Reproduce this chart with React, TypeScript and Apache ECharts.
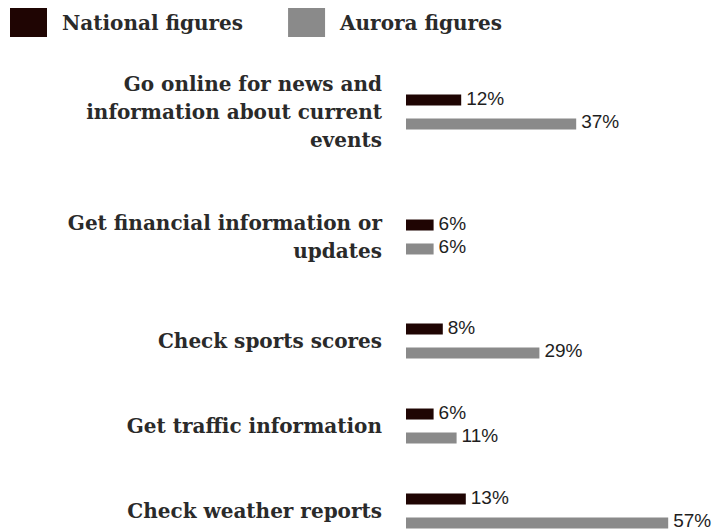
import React, { useEffect, useRef } from "react";
import * as echarts from "echarts";

const categories = [
  "Go online for news and\ninformation about current\nevents",
  "Get financial information or\nupdates",
  "Check sports scores",
  "Get traffic information",
  "Check weather reports",
];
const nationalValues = [12, 6, 8, 6, 13];
const auroraValues = [37, 6, 29, 11, 57];
const seriesNames = ["National figures", "Aurora figures"];

const groupCenters = [112, 237, 341, 426, 511];
const NATIONAL_COLOR = "#1f0503";
const AURORA_COLOR = "#8a8a8a";
const SERIF = "DejaVu Serif";

export default function App() {
  const ref = useRef<HTMLDivElement>(null);
  useEffect(() => {
    document.body.style.margin = "0";
    const chart = echarts.init(ref.current!, null, { renderer: "svg" });
    const grids: any[] = [];
    const xAxes: any[] = [];
    const yAxes: any[] = [];
    const series: any[] = [];
    categories.forEach((cat, i) => {
      grids.push({ left: 406, width: 276, top: groupCenters[i] - 20, height: 40 });
      xAxes.push({
        type: "value",
        gridIndex: i,
        min: 0,
        max: 60,
        show: false,
      });
      yAxes.push({
        type: "category",
        gridIndex: i,
        data: [cat],
        inverse: true,
        axisLine: { show: false },
        axisTick: { show: false },
        splitLine: { show: false },
        axisLabel: {
          margin: 24,
          fontFamily: SERIF,
          fontSize: 20,
          fontWeight: "bold",
          lineHeight: 28,
          color: "#2a2a2a",
          align: "right",
        },
      });
      const label = {
        show: true,
        position: "right",
        distance: 5,
        offset: [0, -2],
        formatter: "{c}%",
        fontFamily: "Liberation Sans",
        fontSize: 19,
        lineHeight: 16,
        color: "#1e1e1e",
      };
      series.push({
        type: "bar",
        name: seriesNames[0],
        xAxisIndex: i,
        yAxisIndex: i,
        data: [nationalValues[i]],
        barWidth: 11,
        barGap: "118%",
        itemStyle: { color: NATIONAL_COLOR },
        label,
      });
      series.push({
        type: "bar",
        name: seriesNames[1],
        xAxisIndex: i,
        yAxisIndex: i,
        data: [auroraValues[i]],
        barWidth: 11,
        barGap: "118%",
        itemStyle: { color: AURORA_COLOR },
        label,
      });
    });
    chart.setOption({
      animation: false,
      backgroundColor: "#ffffff",
      legend: {
        left: 10,
        top: 8,
        padding: 0,
        icon: "rect",
        itemWidth: 37,
        itemHeight: 29,
        itemGap: 45,
        data: seriesNames,
        textStyle: {
          fontFamily: SERIF,
          fontSize: 20,
          fontWeight: "bold",
          color: "#2a2a2a",
          padding: [0, 0, 0, 10],
        },
      },
      grid: grids,
      xAxis: xAxes,
      yAxis: yAxes,
      series,
    });
    return () => chart.dispose();
  }, []);
  return <div ref={ref} style={{ width: 719, height: 531 }} />;
}
